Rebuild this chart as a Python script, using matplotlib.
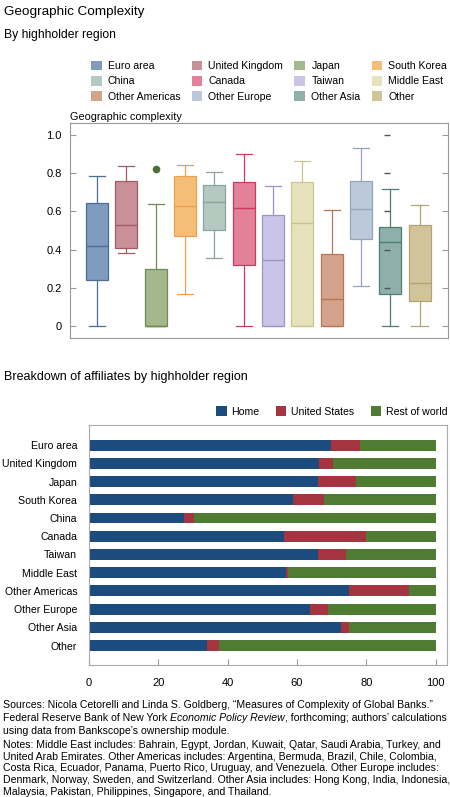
import matplotlib
matplotlib.use("Agg")
import matplotlib.pyplot as plt
from matplotlib.patches import Patch

plt.rcParams['font.family'] = ['Liberation Sans', 'DejaVu Sans']

# Данные: диаграмма размаха по регионам
regions = ['Euro area', 'United Kingdom', 'Japan', 'South Korea', 'China', 'Canada',
           'Taiwan', 'Middle East', 'Other Americas', 'Other Europe', 'Other Asia', 'Other']
whis_hi = [0.783, 0.835, 0.637, 0.843, 0.807, 0.899, 0.732, 0.863, 0.607, 0.929, 0.717, 0.631]
q3 = [0.645, 0.758, 0.299, 0.783, 0.739, 0.755, 0.583, 0.755, 0.376, 0.758, 0.518, 0.527]
median = [0.419, 0.527, 0.0, 0.628, 0.647, 0.616, 0.346, 0.539, 0.144, 0.614, 0.440, 0.224]
q1 = [0.242, 0.407, 0.0, 0.471, 0.503, 0.322, 0.0, 0.0, 0.0, 0.454, 0.169, 0.130]
whis_lo = [0.0, 0.383, 0.0, 0.167, 0.355, 0.0, 0.0, 0.0, 0.0, 0.210, 0.0, 0.0]
outliers = {'Japan': [0.819]}
dash_marks = [1.0, 0.8, 0.6, 0.4, 0.2]  # короткие штрихи у Other Asia

face_colors = ['#7f9bbe', '#c9909a', '#a3b98c', '#f5be78', '#b5c9c1', '#e3809a',
               '#c9c5e6', '#e6e3bc', '#d4a38c', '#bcc9da', '#8fb0aa', '#d2c49a']
edge_colors = ['#4b6e96', '#a25c68', '#6e8a55', '#eda050', '#8ca59c', '#cc3a5e',
               '#9a94c8', '#c9c490', '#b97556', '#93a6bd', '#4f7e77', '#b3a273']

# Данные: структура филиалов
bar_regions = ['Euro area', 'United Kingdom', 'Japan', 'South Korea', 'China', 'Canada',
               'Taiwan', 'Middle East', 'Other Americas', 'Other Europe', 'Other Asia', 'Other']
home = [69.8, 66.5, 66.1, 59.0, 27.5, 56.2, 66.1, 56.7, 75.0, 63.9, 72.6, 34.1]
united_states = [8.5, 3.9, 10.8, 8.9, 2.9, 23.8, 8.0, 0.7, 17.3, 5.0, 2.4, 3.5]
rest_of_world = [100 - h - u for h, u in zip(home, united_states)]
bar_colors = ['#1b4c7d', '#a33440', '#4f7b33']

W, H = 450, 797
fig = plt.figure(figsize=(W / 100, H / 100), dpi=100)


def fy(px):
    return 1 - px / H


def fx(px):
    return px / W


fig.text(fx(4), fy(12), 'Geographic Complexity', fontsize=9.7, va='center')
fig.text(fx(4), fy(35), 'By highholder region', fontsize=8.7, va='center')

# --- Диаграмма размаха ---
ax1 = fig.add_axes([fx(70), fy(338), fx(448) - fx(70), fy(123) - fy(338)])
stats = []
for i, r in enumerate(regions):
    stats.append(dict(med=median[i], q1=q1[i], q3=q3[i], whislo=whis_lo[i],
                      whishi=whis_hi[i], fliers=outliers.get(r, [])))
pos = list(range(len(regions)))
bp = ax1.bxp(stats, positions=pos, widths=0.75, capwidths=0.55, patch_artist=True,
             showfliers=True)
for i in range(len(regions)):
    ec = edge_colors[i]
    bp['boxes'][i].set(facecolor=face_colors[i], edgecolor=ec, linewidth=0.9)
    bp['medians'][i].set(color=ec, linewidth=1.0)
    for ln in bp['whiskers'][2 * i:2 * i + 2] + bp['caps'][2 * i:2 * i + 2]:
        ln.set(color=ec, linewidth=0.9)
    bp['fliers'][i].set(marker='o', markerfacecolor='#4f6e36', markeredgecolor='#4f6e36',
                        markersize=4.5)
ax1.plot([regions.index('Other Asia') - 0.1] * len(dash_marks), dash_marks, ls='none',
         marker='_', markersize=5, color='#555555', markeredgewidth=1.0)
ax1.set_xlim(-0.92, 11.97)
ax1.set_ylim(-0.061, 1.061)
ax1.set_xticks([])
ax1.set_yticks([0, 0.2, 0.4, 0.6, 0.8, 1.0])
ax1.set_yticklabels(['0', '0.2', '0.4', '0.6', '0.8', '1.0'])
ax1.tick_params(axis='y', direction='in', length=4, color='#999999', labelsize=8,
                right=True, pad=6)
for s in ax1.spines.values():
    s.set_color('#999999')
    s.set_linewidth(0.8)
fig.text(fx(70), fy(117), 'Geographic complexity', fontsize=7.8, va='center')

handles = [Patch(facecolor=face_colors[i], edgecolor='none') for i in range(len(regions))]
order = [r * 4 + c for c in range(4) for r in range(3)]
fig.legend([handles[k] for k in order], [regions[k] for k in order], ncol=4,
           loc='upper left', bbox_to_anchor=(fx(91), fy(61)), frameon=False, fontsize=7.6,
           handlelength=1.0, handleheight=1.0, handletextpad=0.6, columnspacing=1.05,
           labelspacing=0.45, borderpad=0, borderaxespad=0)

# --- Горизонтальные столбцы ---
fig.text(fx(4), fy(377), 'Breakdown of affiliates by highholder region', fontsize=9.0,
         va='center')
ax2 = fig.add_axes([fx(89), fy(665), fx(447) - fx(89), fy(425) - fy(665)])
yy = list(range(len(bar_regions)))
ax2.barh(yy, home, height=0.6, color=bar_colors[0], label='Home')
ax2.barh(yy, united_states, left=home, height=0.6, color=bar_colors[1], label='United States')
left2 = [h + u for h, u in zip(home, united_states)]
ax2.barh(yy, rest_of_world, left=left2, height=0.6, color=bar_colors[2], label='Rest of world')
ax2.set_ylim(len(bar_regions) - 1 + 1.06, -1.1)
ax2.set_xlim(0, 103.3)
ax2.set_yticks(yy)
ax2.set_yticklabels(bar_regions)
ax2.set_xticks([0, 20, 40, 60, 80, 100])
ax2.tick_params(axis='y', length=0, labelsize=7.6, pad=8.5)
ax2.tick_params(axis='x', direction='in', length=4, color='#999999', labelsize=8, pad=9)
for s in ax2.spines.values():
    s.set_color('#aaaaaa')
    s.set_linewidth(0.8)
ax2.legend(ncol=3, loc='lower right', bbox_to_anchor=(1.0, 1.035), frameon=False,
           fontsize=7.6, handlelength=1.0, handleheight=1.0, handletextpad=0.4,
           columnspacing=1.6, borderpad=0, borderaxespad=0)

# --- Источники и примечания ---
fs = 7.6
fig.text(fx(3), fy(705.5), 'Sources: Nicola Cetorelli and Linda S. Goldberg, \u201cMeasures of '
         'Complexity of Global Banks.\u201d', fontsize=fs, va='center')
fig.canvas.draw()
r = fig.canvas.get_renderer()
t1 = fig.text(fx(3), fy(718), 'Federal Reserve Bank of New York ', fontsize=fs, va='center')
x1 = t1.get_window_extent(r).x1
t2 = fig.text(x1 / W, fy(718), 'Economic Policy Review', fontsize=fs, va='center',
              style='italic')
x2 = t2.get_window_extent(r).x1
fig.text(x2 / W, fy(718), ', forthcoming; authors\u2019 calculations', fontsize=fs, va='center')
fig.text(fx(3), fy(730.5), 'using data from Bankscope\u2019s ownership module.', fontsize=fs,
         va='center')

notes = [
    'Notes: Middle East includes: Bahrain, Egypt, Jordan, Kuwait, Qatar, Saudi Arabia, Turkey, and',
    'United Arab Emirates. Other Americas includes: Argentina, Bermuda, Brazil, Chile, Colombia,',
    'Costa Rica, Ecuador, Panama, Puerto Rico, Uruguay, and Venezuela. Other Europe includes:',
    'Denmark, Norway, Sweden, and Switzerland. Other Asia includes: Hong Kong, India, Indonesia,',
    'Malaysia, Pakistan, Philippines, Singapore, and Thailand.',
]
for k, line in enumerate(notes):
    fig.text(fx(3), fy(745 + 11.7 * k), line, fontsize=fs, va='center')

fig.savefig('out.png', dpi=100)
